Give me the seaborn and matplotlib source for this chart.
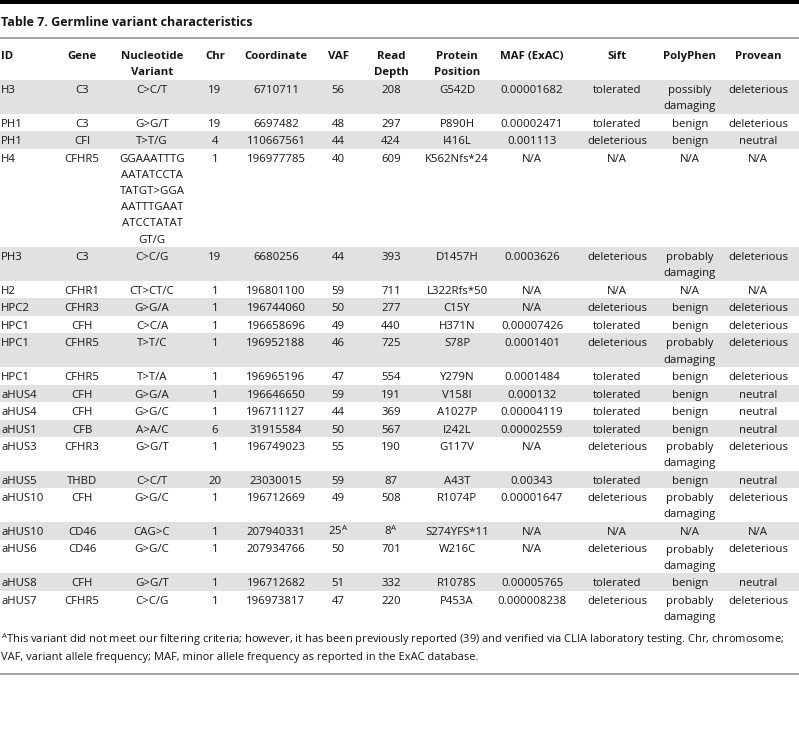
import numpy as np
import pandas as pd
import matplotlib
matplotlib.use("Agg")
import matplotlib.pyplot as plt
import seaborn as sns

# table content
title = "Table 7. Germline variant characteristics"
headers = ["ID", "Gene", "Nucleotide\nVariant", "Chr", "Coordinate", "VAF", "Read\nDepth",
           "Protein\nPosition", "MAF (ExAC)", "Sift", "PolyPhen", "Provean"]

ids = ["H3", "PH1", "PH1", "H4", "PH3", "H2", "HPC2", "HPC1", "HPC1", "HPC1",
       "aHUS4", "aHUS4", "aHUS1", "aHUS3", "aHUS5", "aHUS10", "aHUS10", "aHUS6", "aHUS8", "aHUS7"]
genes = ["C3", "C3", "CFI", "CFHR5", "C3", "CFHR1", "CFHR3", "CFH", "CFHR5", "CFHR5",
         "CFH", "CFH", "CFB", "CFHR3", "THBD", "CFH", "CD46", "CD46", "CFH", "CFHR5"]
nucleotides = ["C>C/T", "G>G/T", "T>T/G",
               "GGAAATTTG\nAATATCCTA\nTATGT>GGA\nAATTTGAAT\nATCCTATAT\nGT/G",
               "C>C/G", "CT>CT/C", "G>G/A", "C>C/A", "T>T/C", "T>T/A",
               "G>G/A", "G>G/C", "A>A/C", "G>G/T", "C>C/T", "G>G/C", "CAG>C", "G>G/C", "G>G/T", "C>C/G"]
chrs = ["19", "19", "4", "1", "19", "1", "1", "1", "1", "1",
        "1", "1", "6", "1", "20", "1", "1", "1", "1", "1"]
coords = ["6710711", "6697482", "110667561", "196977785", "6680256", "196801100", "196744060",
          "196658696", "196952188", "196965196", "196646650", "196711127", "31915584", "196749023",
          "23030015", "196712669", "207940331", "207934766", "196712682", "196973817"]
vafs = ["56", "48", "44", "40", "44", "59", "50", "49", "46", "47",
        "59", "44", "50", "55", "59", "49", r"25$^{\mathrm{A}}$", "50", "51", "47"]
depths = ["208", "297", "424", "609", "393", "711", "277", "440", "725", "554",
          "191", "369", "567", "190", "87", "508", r"8$^{\mathrm{A}}$", "701", "332", "220"]
proteins = ["G542D", "P890H", "I416L", "K562Nfs*24", "D1457H", "L322Rfs*50", "C15Y", "H371N",
            "S78P", "Y279N", "V158I", "A1027P", "I242L", "G117V", "A43T", "R1074P",
            "S274YFS*11", "W216C", "R1078S", "P453A"]
mafs = ["0.00001682", "0.00002471", "0.001113", "N/A", "0.0003626", "N/A", "N/A", "0.00007426",
        "0.0001401", "0.0001484", "0.000132", "0.00004119", "0.00002559", "N/A", "0.00343",
        "0.00001647", "N/A", "N/A", "0.00005765", "0.000008238"]
sifts = ["tolerated", "tolerated", "deleterious", "N/A", "deleterious", "N/A", "deleterious",
         "tolerated", "deleterious", "tolerated", "tolerated", "tolerated", "tolerated",
         "deleterious", "tolerated", "deleterious", "N/A", "deleterious", "tolerated", "deleterious"]
polyphens = ["possibly\ndamaging", "benign", "benign", "N/A", "probably\ndamaging", "N/A", "benign",
             "benign", "probably\ndamaging", "benign", "benign", "benign", "benign",
             "probably\ndamaging", "benign", "probably\ndamaging", "N/A", "probably\ndamaging",
             "benign", "probably\ndamaging"]
proveans = ["deleterious", "deleterious", "neutral", "N/A", "deleterious", "N/A", "deleterious",
            "deleterious", "deleterious", "deleterious", "neutral", "neutral", "neutral",
            "deleterious", "neutral", "deleterious", "N/A", "deleterious", "neutral", "deleterious"]

footnote = [r"$^{\mathrm{A}}$This variant did not meet our filtering criteria; however, it has been previously "
            "reported (39) and verified via CLIA laboratory testing. Chr, chromosome;",
            "VAF, variant allele frequency; MAF, minor allele frequency as reported in the ExAC database."]

df = pd.DataFrame({"ID": ids, "Gene": genes, "Nuc": nucleotides, "Chr": chrs, "Coord": coords,
                   "VAF": vafs, "Depth": depths, "Protein": proteins, "MAF": mafs,
                   "Sift": sifts, "PolyPhen": polyphens, "Provean": proveans})

sns.set_theme(style="white")
plt.rcParams["font.family"] = ["Open Sans", "DejaVu Sans"]
plt.rcParams["mathtext.fontset"] = "custom"
plt.rcParams["mathtext.rm"] = "Open Sans"
plt.rcParams["mathtext.bf"] = "Open Sans:bold"

# layout in pixels
col_x = [1, 82, 152, 215, 276, 338, 391, 457, 532, 617, 690, 758]
col_ha = ["left"] + ["center"] * 11
line_h = 16.2
row_pad = 1.3
body_top = 80
fs = 8.2
band_color = "#e1e1e1"
txt = "#161616"

fig = plt.figure(figsize=(7.99, 7.32), dpi=100)
ax = fig.add_axes([0, 0, 1, 1])
ax.set_xlim(0, 799)
ax.set_ylim(732, 0)
ax.axis("off")

# rules
ax.axhspan(0, 3.5, color="black", lw=0)
ax.axhline(38, color="#8a8a8a", lw=1.1)
ax.axhline(674, color="#8a8a8a", lw=1.1)

ax.text(1, 26.5, title, fontsize=9, fontweight="bold", ha="left", va="baseline", color=txt)

# header
for x, ha, h in zip(col_x, col_ha, headers):
    for j, part in enumerate(h.split("\n")):
        ax.text(x, 59 + j * line_h, part, fontsize=fs, fontweight="bold", ha=ha, va="baseline",
                color=txt)

# body
top = body_top
for i, row in enumerate(df.itertuples(index=False)):
    cells = list(row)
    n = max(len(c.split("\n")) for c in cells)
    h = n * line_h + row_pad
    if i % 2 == 0:
        ax.axhspan(top, top + h, color=band_color, lw=0, zorder=0)
    for x, ha, c in zip(col_x, col_ha, cells):
        for j, part in enumerate(c.split("\n")):
            ax.text(x, top + 13 + j * line_h, part, fontsize=fs, ha=ha, va="baseline", color=txt)
    top += h

for j, line in enumerate(footnote):
    ax.text(1, 643 + j * 17, line, fontsize=8, ha="left", va="baseline", color=txt)

fig.savefig("out.png", dpi=100)
